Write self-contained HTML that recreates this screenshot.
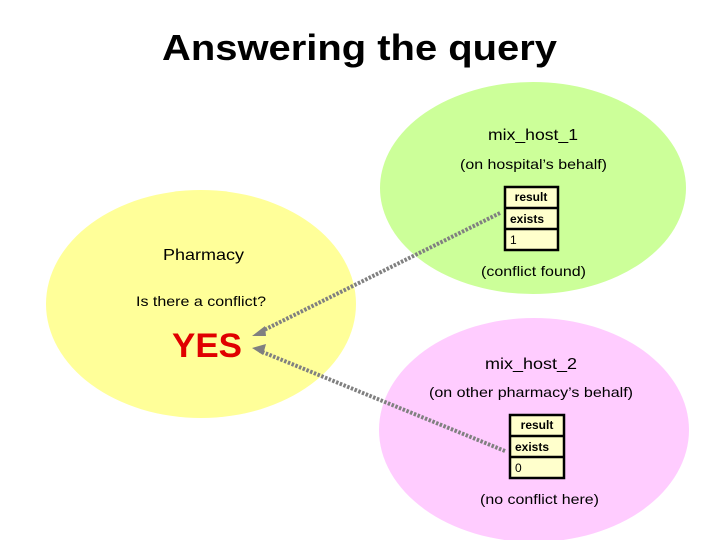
<!DOCTYPE html>
<html><head><meta charset="utf-8"><style>
html,body{margin:0;padding:0;background:#fff;}
svg{display:block;font-family:"Liberation Sans",Arial,sans-serif;}
</style></head><body>
<svg width="720" height="540" viewBox="0 0 720 540" xmlns="http://www.w3.org/2000/svg">
<ellipse cx="533" cy="188" rx="153" ry="106" fill="#ccff99"/>
<ellipse cx="201" cy="304" rx="155" ry="114" fill="#ffff99"/>
<ellipse cx="534" cy="430" rx="155" ry="112" fill="#ffccff"/>
<g lengthAdjust="spacingAndGlyphs">
<text x="162" y="60" font-size="36" font-weight="bold" textLength="395" lengthAdjust="spacingAndGlyphs">Answering the query</text>
<text x="488" y="140" font-size="16" textLength="90" lengthAdjust="spacingAndGlyphs">mix_host_1</text>
<text x="460" y="169" font-size="14" textLength="147" lengthAdjust="spacingAndGlyphs">(on hospital’s behalf)</text>
<text x="481" y="276" font-size="14" textLength="105" lengthAdjust="spacingAndGlyphs">(conflict found)</text>
<text x="163" y="260" font-size="16" textLength="81" lengthAdjust="spacingAndGlyphs">Pharmacy</text>
<text x="136" y="306" font-size="14" textLength="130" lengthAdjust="spacingAndGlyphs">Is there a conflict?</text>
<text x="172" y="357" font-size="34" font-weight="bold" fill="#e00000" textLength="70" lengthAdjust="spacingAndGlyphs">YES</text>
<text x="485" y="369" font-size="16" textLength="92" lengthAdjust="spacingAndGlyphs">mix_host_2</text>
<text x="429" y="397" font-size="14" textLength="204" lengthAdjust="spacingAndGlyphs">(on other pharmacy’s behalf)</text>
<text x="480" y="504" font-size="14" textLength="119" lengthAdjust="spacingAndGlyphs">(no conflict here)</text>
</g>
<g stroke="#000" stroke-width="2.5" fill="#ffffcc">
<rect x="505" y="187" width="53" height="63"/>
<line x1="505" y1="208" x2="558" y2="208"/><line x1="505" y1="229" x2="558" y2="229"/>
<rect x="510" y="415" width="54" height="63"/>
<line x1="510" y1="436" x2="564" y2="436"/><line x1="510" y1="457" x2="564" y2="457"/>
</g>
<g font-size="12">
<text x="531" y="201" text-anchor="middle" font-weight="bold">result</text>
<text x="510" y="223" font-weight="bold">exists</text>
<text x="510" y="244">1</text>
<text x="537" y="429" text-anchor="middle" font-weight="bold">result</text>
<text x="515" y="451" font-weight="bold">exists</text>
<text x="515" y="472">0</text>
</g>
<g stroke="#808080" stroke-width="4" stroke-dasharray="2.5,1.5" fill="none">
<line x1="500" y1="213" x2="260" y2="332"/>
<line x1="505" y1="451" x2="260" y2="351"/>
</g>
<polygon points="252,336 265,326 266,336" fill="#808080"/>
<polygon points="252,348 266,344 263,355" fill="#808080"/>
</svg>
</body></html>
